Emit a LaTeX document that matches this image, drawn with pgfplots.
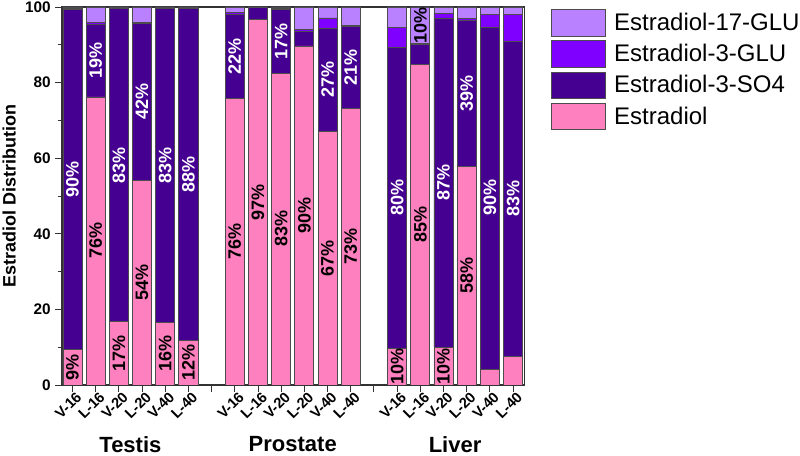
\documentclass[border=0pt]{standalone}
\usepackage{fontspec}
\setmainfont{Liberation Sans}
\usepackage{pgfplots}
\usepackage{pgfplotstable}
\pgfplotsset{compat=1.18}

\definecolor{estr}{RGB}{255,128,190}
\definecolor{sulf}{RGB}{70,0,145}
\definecolor{gluA}{RGB}{128,0,255}
\definecolor{gluB}{RGB}{185,128,255}

% share of each form per bar; x = bar slot (6 and 13 are the gaps between tissues)
\pgfplotstableread{
x   E     S     G    G17
0   9.4   90.0  0.2  0.4
1   76.2  19.2  0.6  4.0
2   16.7  82.8  0.1  0.4
3   54.0  41.7  0.3  4.0
4   16.5  83.0  0.1  0.4
5   11.7  88.0  0.1  0.2
7   75.7  22.4  0.5  1.4
8   96.7  3.1   0.1  0.1
9   82.5  16.9  0.1  0.5
10  89.7  3.8   0.5  6.0
11  67.0  27.4  2.7  2.9
12  73.1  21.7  0.2  5.0
14  9.7   79.6  5.3  5.4
15  84.9  5.2   0.2  9.7
16  10.0  87.1  1.3  1.6
17  57.8  38.6  0.6  3.0
18  4.2   90.5  3.3  2.0
19  7.5   83.5  7.0  2.0
}\dist

% percent labels, placed at the middle of their segment
\pgfplotstableread{
x   y     lab
0   54.4  90
1   85.8  19
2   58.1  83
3   74.9  42
4   58.0  83
5   55.7  88
7   86.9  22
9   91.0  17
11  80.7  27
12  84.0  21
14  49.5  80
16  53.6  87
17  77.1  39
18  49.5  90
19  49.3  83
}\whitelabs
\pgfplotstableread{
x   y     lab
0   4.7   9
1   38.1  76
2   8.4   17
3   27.0  54
4   8.3   16
5   5.9   12
7   37.9  76
8   48.4  97
9   41.3  83
10  44.9  90
11  33.5  67
12  36.6  73
14  4.9   10
15  42.5  85
15  95.2  10
16  5.0   10
17  28.9  58
}\blacklabs

\pgfplotsset{
  barleg/.style={legend image code/.code={%
    \draw[##1, line width=0.5pt] (0pt,-10pt) rectangle (40.5pt,10pt);}},
  pctlab/.style={only marks, mark=none, nodes near coords={\pgfplotspointmeta\%},
    point meta=explicit symbolic,
    nodes near coords style={rotate=90, anchor=center, inner sep=0pt,
      font=\bfseries\fontsize{13.5}{15}\selectfont, text=#1}},
}

\begin{document}
\begin{tikzpicture}
\begin{axis}[
  name=main,
  scale only axis, width=347pt, height=283.5pt,
  ybar stacked, bar width=0.82,
  xmin=-0.45, xmax=19.5, ymin=0, ymax=100,
  xtick={0,...,19},
  xticklabels={V-16,L-16,V-20,L-20,V-40,L-40,{},V-16,L-16,V-20,L-20,V-40,L-40,{},V-16,L-16,V-20,L-20,V-40,L-40},
  x tick label style={rotate=45, anchor=north east, inner sep=1pt, xshift=3pt,
    font=\bfseries\fontsize{11}{13}\selectfont},
  ytick={0,20,...,100}, minor y tick num=1,
  y tick label style={font=\bfseries\fontsize{11.5}{13}\selectfont},
  /pgf/number format/assume math mode=true,
  tick align=outside, xtick pos=bottom, ytick pos=left,
  major tick length=5pt, minor tick length=3pt,
  tick style={black!80, line width=0.7pt},
  axis line style={black!80, line width=0.9pt},
  ylabel={Estradiol Distribution},
  ylabel style={font=\bfseries\fontsize{13.5}{15}\selectfont},
  reverse legend,
  legend cell align=left,
  legend style={at={(1.056,0.995)}, anchor=north west, draw=none, fill=none,
    inner sep=0pt, font=\fontsize{18}{21}\selectfont, row sep=2.9pt,
    column sep=6.5pt, nodes={inner sep=0pt}},
]
\addplot[fill=estr, draw=black!70, line width=0.6pt, barleg] table[x=x, y=E] {\dist};
\addplot[fill=sulf, draw=black!70, line width=0.6pt, barleg] table[x=x, y=S] {\dist};
\addplot[fill=gluA, draw=black!70, line width=0.6pt, barleg] table[x=x, y=G] {\dist};
\addplot[fill=gluB, draw=black!70, line width=0.6pt, barleg] table[x=x, y=G17] {\dist};
\legend{Estradiol, Estradiol-3-SO4, Estradiol-3-GLU, Estradiol-17-GLU}
\end{axis}
% second, bare axis on the same box: segment labels and tissue names
\begin{axis}[
  scale only axis, width=347pt, height=283.5pt,
  xmin=-0.45, xmax=19.5, ymin=0, ymax=100,
  clip=false,
  axis line style={draw=none}, tick style={draw=none},
  ytick=\empty,
  xtick={2.5,9.5,16.5}, xticklabels={Testis,Prostate,Liver}, xtick pos=bottom,
  x tick label style={anchor=north, inner sep=0pt, yshift=-38.5pt,
    font=\bfseries\fontsize{16.5}{18}\selectfont},
]
\addplot[pctlab=white] table[x=x, y=y, meta=lab] {\whitelabs};
\addplot[pctlab=black] table[x=x, y=y, meta=lab] {\blacklabs};
\end{axis}
\pgfresetboundingbox
\path[use as bounding box] ([shift={(-46.5pt,-53.25pt)}]main.south west)
  rectangle ([shift={(553.5pt,288.75pt)}]main.south west);
\end{tikzpicture}
\end{document}
